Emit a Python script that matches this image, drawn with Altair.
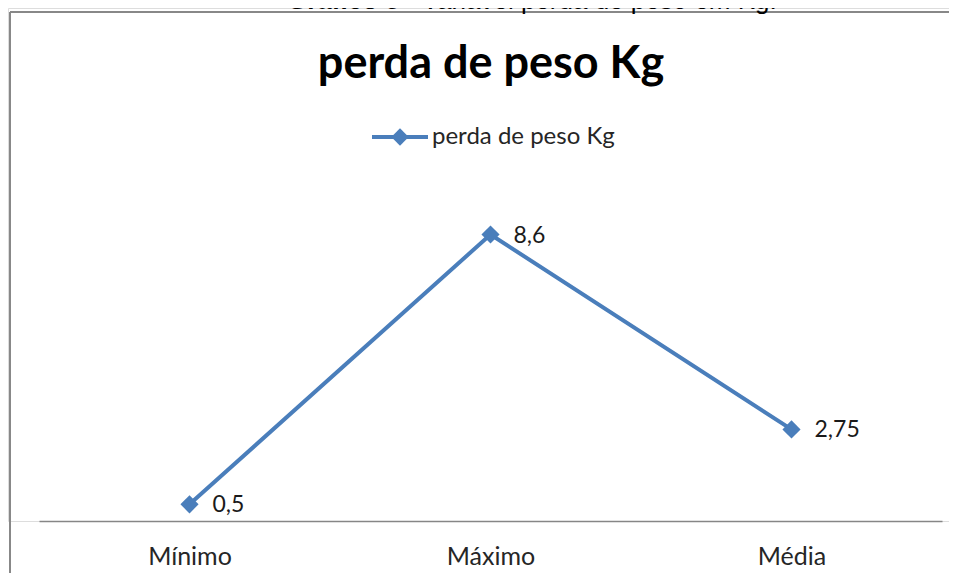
import altair as alt
import pandas as pd

# ---- data ----
categories = ["Mínimo", "Máximo", "Média"]
values = [0.5, 8.6, 2.75]
value_labels = ["0,5", "8,6", "2,75"]
series_name = "perda de peso Kg"
chart_title = "perda de peso Kg"
caption_bold = "Gráfico 5"
caption_rest = " – Variável perda de peso em Kg."

df = pd.DataFrame({"cat": categories, "val": values, "lab": value_labels})

BLUE = "#4A7EBB"
FONT = "Lato"

x_enc = alt.X(
    "cat:N",
    sort=categories,
    scale=alt.Scale(range=[31, 934], paddingInner=0, paddingOuter=0),
    axis=alt.Axis(
        title=None,
        labelAngle=0,
        labelFont=FONT,
        labelFontSize=25,
        labelColor="#262626",
        ticks=False,
        domainColor="#868686",
        domainWidth=1.5,
        labelPadding=23,
        grid=False,
    ),
)
y_enc = alt.Y("val:Q", scale=alt.Scale(domain=[0, 15.4], nice=False), axis=None)

base = alt.Chart(df).encode(x=x_enc, y=y_enc)

line = base.mark_line(color=BLUE, strokeWidth=4)
points = base.mark_point(shape="diamond", filled=True, size=330, opacity=1, color=BLUE)
labels = base.mark_text(
    align="left", baseline="middle", dx=23, dy=1, font=FONT, fontSize=23, color="#1a1a1a"
).encode(text="lab:N")

one = pd.DataFrame({"a": [0]})

border_left = alt.Chart(one).mark_rule(color="#888888", strokeWidth=2).encode(
    x=alt.value(2), y=alt.value(4), y2=alt.value(800)
)
border_top = alt.Chart(one).mark_rule(color="#888888", strokeWidth=2).encode(
    x=alt.value(2), x2=alt.value(1100), y=alt.value(4)
)

title = alt.Chart(pd.DataFrame({"t": [chart_title]})).mark_text(
    font=FONT, fontSize=45, fontWeight="bold", align="center", baseline="alphabetic", color="#000000"
).encode(text="t:N", x=alt.value(483), y=alt.value(70))

leg_line = alt.Chart(one).mark_rule(color=BLUE, strokeWidth=4).encode(
    x=alt.value(364), x2=alt.value(420), y=alt.value(129)
)
leg_pt = alt.Chart(one).mark_point(shape="diamond", filled=True, size=300, opacity=1, color=BLUE).encode(
    x=alt.value(392), y=alt.value(129)
)
leg_txt = alt.Chart(pd.DataFrame({"t": [series_name]})).mark_text(
    font=FONT, fontSize=24, align="left", baseline="middle", color="#262626"
).encode(text="t:N", x=alt.value(424), y=alt.value(129))

cap1 = alt.Chart(pd.DataFrame({"t": [caption_bold]})).mark_text(
    font="Liberation Sans", fontSize=26, fontWeight="bold", align="left", baseline="alphabetic", color="#000000"
).encode(text="t:N", x=alt.value(279), y=alt.value(1))
cap2 = alt.Chart(pd.DataFrame({"t": [caption_rest]})).mark_text(
    font="Liberation Sans", fontSize=26, align="left", baseline="alphabetic", color="#000000"
).encode(text="t:N", x=alt.value(392), y=alt.value(1))

chart = alt.layer(
    border_left, border_top, cap1, cap2, title, leg_line, leg_pt, leg_txt, line, points, labels
).properties(
    width=941,
    height=513,
    autosize=alt.AutoSizeParams(type="none"),
    padding={"left": 0, "top": 0, "right": 0, "bottom": 52},
).configure_view(stroke="transparent", strokeWidth=0).configure(background="white")

chart.save("out.html", embed_options={"renderer": "svg", "actions": False})
